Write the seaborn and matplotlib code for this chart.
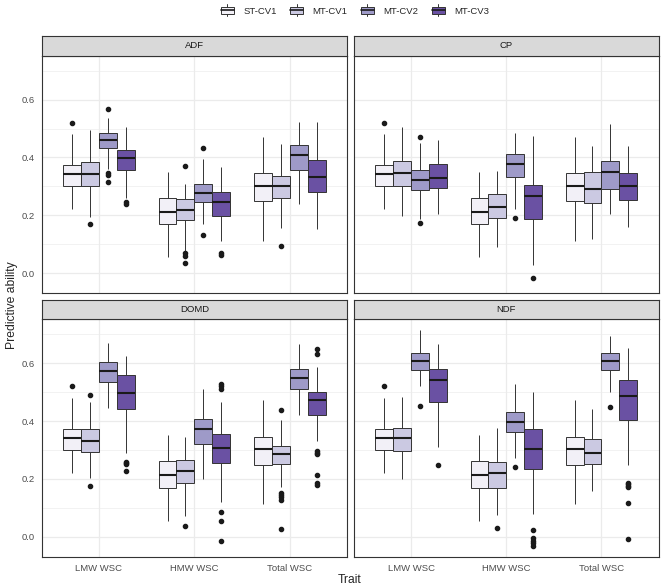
import numpy as np
import pandas as pd
import matplotlib
matplotlib.use('Agg')
import matplotlib.pyplot as plt
from matplotlib.patches import Rectangle, Patch
from matplotlib.lines import Line2D
from matplotlib.legend_handler import HandlerBase
import seaborn as sns

sns.set_style('white')
plt.rcParams['font.family'] = ['Liberation Sans', 'DejaVu Sans']

traits = ['ADF', 'CP', 'DOMD', 'NDF']
wsc = ['LMW WSC', 'HMW WSC', 'Total WSC']
methods = ['ST-CV1', 'MT-CV1', 'MT-CV2', 'MT-CV3']
colors = ['#F2F0F7', '#CBC9E2', '#9E9AC8', '#6A51A3']

# box summaries: lower whisker, q1, median, q3, upper whisker
# rows: LMW (ST-CV1, MT-CV1, MT-CV2, MT-CV3), HMW (...), Total (...)
adf_box = [
    [0.221, 0.300, 0.343, 0.374, 0.480], [0.194, 0.300, 0.343, 0.384, 0.496],
    [0.360, 0.431, 0.459, 0.483, 0.537], [0.258, 0.358, 0.397, 0.427, 0.505],
    [0.054, 0.170, 0.212, 0.261, 0.350], [0.078, 0.184, 0.217, 0.256, 0.309],
    [0.171, 0.245, 0.278, 0.309, 0.393], [0.111, 0.198, 0.247, 0.281, 0.367],
    [0.112, 0.248, 0.302, 0.345, 0.472], [0.157, 0.260, 0.301, 0.337, 0.445],
    [0.240, 0.358, 0.407, 0.443, 0.522], [0.153, 0.279, 0.332, 0.390, 0.522],
]
adf_out = [
    [0.520], [0.170], [0.567, 0.347, 0.340, 0.314], [0.246, 0.240],
    [], [0.369, 0.068, 0.058, 0.036], [0.434, 0.130], [0.070, 0.062],
    [], [0.095], [], [],
]
cp_box = [
    [0.221, 0.300, 0.343, 0.374, 0.480], [0.198, 0.302, 0.347, 0.386, 0.507],
    [0.188, 0.286, 0.322, 0.358, 0.451], [0.203, 0.295, 0.330, 0.376, 0.461],
    [0.054, 0.170, 0.212, 0.261, 0.350], [0.090, 0.191, 0.227, 0.273, 0.352],
    [0.220, 0.333, 0.378, 0.412, 0.484], [0.028, 0.187, 0.265, 0.305, 0.473],
    [0.112, 0.248, 0.302, 0.345, 0.472], [0.118, 0.241, 0.290, 0.348, 0.438],
    [0.204, 0.291, 0.351, 0.386, 0.517], [0.159, 0.254, 0.301, 0.347, 0.441],
]
cp_out = [
    [0.520], [], [0.470, 0.172], [],
    [], [], [0.189], [-0.018],
    [], [], [], [],
]
domd_box = [
    [0.221, 0.300, 0.343, 0.374, 0.480], [0.204, 0.294, 0.332, 0.371, 0.467],
    [0.444, 0.535, 0.574, 0.603, 0.669], [0.291, 0.442, 0.496, 0.561, 0.625],
    [0.054, 0.170, 0.212, 0.261, 0.350], [0.072, 0.185, 0.227, 0.266, 0.345],
    [0.201, 0.321, 0.373, 0.408, 0.512], [0.121, 0.255, 0.307, 0.356, 0.466],
    [0.112, 0.248, 0.302, 0.345, 0.472], [0.173, 0.253, 0.286, 0.315, 0.405],
    [0.420, 0.512, 0.549, 0.581, 0.665], [0.331, 0.420, 0.473, 0.501, 0.586],
]
domd_out = [
    [0.520], [0.491, 0.175], [], [0.260, 0.256, 0.252, 0.226],
    [], [0.036], [], [0.528, 0.521, 0.512, 0.085, 0.054, -0.015],
    [], [0.438, 0.151, 0.143, 0.136, 0.128, 0.027], [],
    [0.649, 0.633, 0.295, 0.291, 0.285, 0.215, 0.185, 0.178],
]
ndf_box = [
    [0.221, 0.300, 0.343, 0.374, 0.480], [0.200, 0.298, 0.340, 0.377, 0.483],
    [0.520, 0.577, 0.609, 0.634, 0.715], [0.311, 0.466, 0.542, 0.579, 0.667],
    [0.054, 0.170, 0.212, 0.261, 0.350], [0.075, 0.167, 0.219, 0.257, 0.376],
    [0.271, 0.361, 0.398, 0.431, 0.527], [0.080, 0.234, 0.302, 0.374, 0.502],
    [0.112, 0.248, 0.302, 0.345, 0.472], [0.158, 0.251, 0.288, 0.339, 0.443],
    [0.499, 0.578, 0.609, 0.637, 0.694], [0.248, 0.403, 0.487, 0.541, 0.652],
]
ndf_out = [
    [0.520], [], [0.451], [0.247],
    [], [0.029], [0.240], [0.022, -0.006, -0.014, -0.023, -0.033],
    [], [], [0.448], [0.187, 0.181, 0.175, 0.171, 0.116, -0.008],
]

boxes = {'ADF': adf_box, 'CP': cp_box, 'DOMD': domd_box, 'NDF': ndf_box}
outs = {'ADF': adf_out, 'CP': cp_out, 'DOMD': domd_out, 'NDF': ndf_out}

# expand each summary to 33 values whose quartiles / whiskers match the summary
rows = []
for t in traits:
    for k, (s, o) in enumerate(zip(boxes[t], outs[t])):
        lo, q1, med, q3, hi = s
        low = sorted(v for v in o if v < q1)
        high = sorted(v for v in o if v > q3)
        vals = low + [lo] + [q1] * (8 - len(low)) + [med] * 8 + [q3] * (15 - len(high)) + [hi] + high
        for v in vals:
            rows.append((t, wsc[k // 4], methods[k % 4], v))
df = pd.DataFrame(rows, columns=['trait', 'wsc', 'method', 'value'])

W, H = 661, 587
fig = plt.figure(figsize=(W / 100, H / 100), dpi=100)


def px_axes(x0, y0, w, h):
    return fig.add_axes([x0 / W, 1 - (y0 + h) / H, w / W, h / H])


small = 6.8
lefts = [41.5, 354.0]
widths = [305.8, 304.5]
tops = [55.7, 319.3]
ph = 237.6
sh = 19.7

for i, t in enumerate(traits):
    r, c = divmod(i, 2)
    ax = px_axes(lefts[c], tops[r], widths[c], ph)
    sns.boxplot(data=df[df['trait'] == t], x='wsc', y='value', hue='method',
                order=wsc, hue_order=methods, palette=colors, saturation=1,
                width=0.75, gap=0, linecolor='#333333', linewidth=0.7,
                fliersize=3.0, showcaps=False,
                medianprops=dict(linewidth=1.5, color='#1A1A1A'),
                flierprops=dict(marker='o', markerfacecolor='#1A1A1A',
                                markeredgecolor='#1A1A1A'),
                legend=False, ax=ax)
    ax.set_xlim(-0.6, 2.6)
    ax.set_ylim(-0.070, 0.752)
    ax.set_yticks([0.0, 0.2, 0.4, 0.6])
    ax.set_yticks([0.1, 0.3, 0.5, 0.7], minor=True)
    ax.set_yticklabels(['0.0', '0.2', '0.4', '0.6'])
    ax.set_axisbelow(True)
    ax.grid(True, which='major', color='#EBEBEB', linewidth=0.9)
    ax.grid(True, which='minor', axis='y', color='#EBEBEB', linewidth=0.45)
    ax.set_xlabel('')
    ax.set_ylabel('')
    for sp in ax.spines.values():
        sp.set_color('#333333')
        sp.set_linewidth(0.8)
    ax.tick_params(axis='both', which='major', colors='#333333', labelcolor='#4D4D4D',
                   labelsize=small, length=3, width=0.6, pad=2)
    ax.tick_params(axis='y', which='minor', length=0)
    if r == 0:
        ax.tick_params(axis='x', bottom=False, labelbottom=False)
    if c == 1:
        ax.tick_params(axis='y', left=False, labelleft=False)

    sax = px_axes(lefts[c], tops[r] - sh, widths[c], sh)
    sax.set_facecolor('#D9D9D9')
    sax.set_xticks([])
    sax.set_yticks([])
    for sp in sax.spines.values():
        sp.set_color('#333333')
        sp.set_linewidth(0.8)
    sax.text(0.5, 0.5, t, ha='center', va='center', fontsize=small,
             color='#1A1A1A', transform=sax.transAxes)


class BoxKey(HandlerBase):
    def create_artists(self, legend, orig_handle, xdescent, ydescent,
                       width, height, fontsize, trans):
        x0, y0 = -xdescent, -ydescent
        box = Rectangle((x0, y0 + 0.15 * height), width, 0.7 * height,
                        facecolor=orig_handle.get_facecolor(), edgecolor='#333333',
                        linewidth=0.7, transform=trans)
        xm = x0 + width / 2
        wl = Line2D([xm, xm], [y0 - 0.12 * height, y0 + 0.15 * height],
                    color='#333333', linewidth=0.7, transform=trans)
        wh = Line2D([xm, xm], [y0 + 0.85 * height, y0 + 1.12 * height],
                    color='#333333', linewidth=0.7, transform=trans)
        md = Line2D([x0, x0 + width], [y0 + 0.5 * height] * 2,
                    color='#1A1A1A', linewidth=1.2, transform=trans)
        return [box, wl, wh, md]


handles = [Patch(facecolor=col) for col in colors]
fig.legend(handles, methods, loc='center', bbox_to_anchor=(355 / W, 1 - 10.5 / H),
           ncol=4, frameon=False, fontsize=small, handlelength=1.4, handleheight=1.2,
           handletextpad=1.0, columnspacing=1.4,
           handler_map={Patch: BoxKey()})

fig.text(12 / W, 1 - 305 / H, 'Predictive ability', rotation=90, ha='center',
         va='center', fontsize=8.7)
fig.text(350 / W, 1 - 580 / H, 'Trait', ha='center', va='center', fontsize=8.7)

fig.savefig('out.png', dpi=100)
